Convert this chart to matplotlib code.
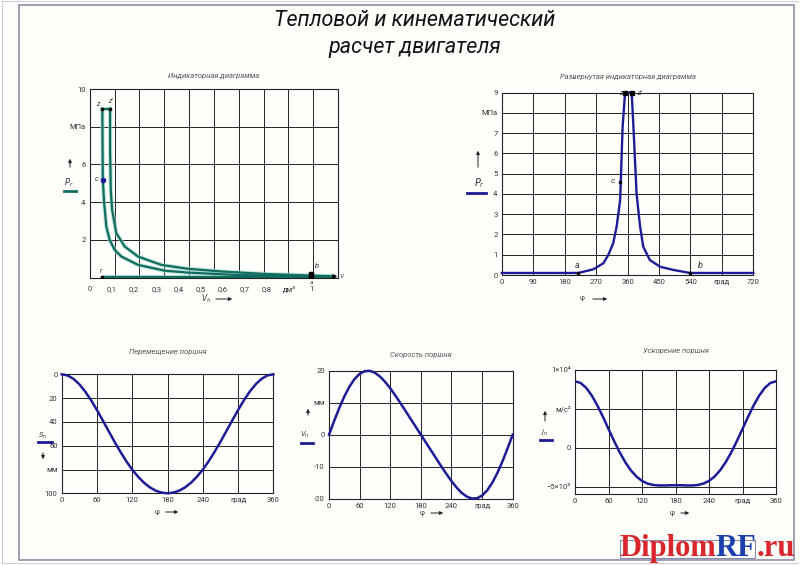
import numpy as np
import matplotlib
matplotlib.use("Agg")
import matplotlib.pyplot as plt
from matplotlib.patches import Rectangle, FancyArrowPatch
from matplotlib.lines import Line2D

plt.rcParams['font.family'] = ['Roboto', 'DejaVu Sans']

# ---- data ----
# indicator diagram (V in dm3, p in MPa)
comp_v = [0.059, 0.065, 0.075, 0.090, 0.113, 0.143, 0.218, 0.339, 0.444, 0.670, 0.895, 1.0, 1.10]
comp_p = [5.2, 4.0, 2.71, 2.0, 1.47, 1.12, 0.68, 0.37, 0.27, 0.14, 0.09, 0.08, 0.07]
exp_v = [0.092, 0.092, 0.095, 0.101, 0.120, 0.158, 0.218, 0.323, 0.444, 0.594, 0.79, 1.0, 1.10]
exp_p = [8.96, 6.8, 4.66, 3.6, 2.36, 1.65, 1.12, 0.68, 0.47, 0.33, 0.20, 0.11, 0.07]
cz_v = [0.059, 0.057]
cz_p = [5.2, 8.96]
zz_v = [0.057, 0.092]
zz_p = [8.96, 8.96]
exh_v = [0.057, 1.10]
exh_p = [0.05, 0.05]

# unfolded indicator diagram (deg, MPa)
phi_p = [0, 90, 180, 219, 262, 291, 305, 319, 329, 339, 346, 353, 372, 377, 386, 396,
         405, 424, 453, 491, 520, 539, 630, 720]
p_phi = [0.1, 0.1, 0.1, 0.1, 0.28, 0.58, 0.99, 1.56, 2.4, 3.7, 7.3, 9.0, 9.0, 7.3, 4.0, 2.4,
         1.4, 0.74, 0.41, 0.25, 0.16, 0.1, 0.1, 0.1]

# piston kinematics
phi_k = list(range(0, 361, 10))
s_half = [0, 0.96, 3.8, 8.4, 14.5, 21.8, 30.1, 38.9, 47.9, 56.8, 65.2, 73.1, 80.1,
          86.1, 91.1, 95.0, 97.8, 99.4, 100]
s_piston = s_half + s_half[-2::-1]
v_half = [0, 4.25, 8.30, 11.94, 15.01, 17.39, 19.02, 19.86, 19.95, 19.35, 18.16, 16.50,
          14.50, 12.25, 9.87, 7.41, 4.94, 2.47, 0]
v_piston = v_half + [-v for v in v_half[-2::-1]]
j_half = [8547, 8333, 7709, 6721, 5446, 3976, 2414, 863, -586, -1859, -2908, -3711,
          -4274, -4622, -4800, -4862, -4861, -4839, -4829]
j_piston = j_half + j_half[-2::-1]

W, H = 800, 565
fig = plt.figure(figsize=(8, 5.65), dpi=100)
fig.patch.set_facecolor('#fffffc')

def fx(x):
    return x / W

def fy(y):
    return 1 - y / H

def rect(l, t, r, b):
    return [fx(l), fy(b), fx(r) - fx(l), fy(t) - fy(b)]

# frame
fig.add_artist(Rectangle((fx(19), fy(560)), fx(794) - fx(19), fy(5) - fy(560),
                         transform=fig.transFigure, fill=False, ec='#8c8ca8', lw=1.2))
fig.add_artist(Line2D([fx(2), fx(2)], [fy(563), fy(1)], transform=fig.transFigure, color='#cfcfd8', lw=0.8))
fig.add_artist(Line2D([fx(2), fx(798)], [fy(563), fy(563)], transform=fig.transFigure, color='#cfcfd8', lw=0.8))
fig.add_artist(Line2D([fx(2), fx(798)], [fy(1), fy(1)], transform=fig.transFigure, color='#cfcfd8', lw=0.8))
fig.add_artist(Rectangle((fx(620), fy(558)), fx(755) - fx(620), fy(540) - fy(558),
                         transform=fig.transFigure, fill=False, ec='#8c8ca8', lw=0.8))

fig.text(fx(415), fy(21), 'Тепловой и кинематический', ha='center', va='center',
         fontsize=15.5, style='italic', color='#111')
fig.text(fx(415), fy(47), 'расчет двигателя', ha='center', va='center',
         fontsize=15.5, style='italic', color='#111')

TICK = dict(labelsize=5.5, colors='#333', length=0, pad=3)
navy = '#1c1c96'
teal = '#0f6c5e'


def setup(ax):
    for s in ax.spines.values():
        s.set_linewidth(0.8)
        s.set_color('#222')
    ax.tick_params(axis='both', **TICK)
    ax.set_facecolor('none')


def ftext(x, y, s, size=6, **kw):
    fig.text(fx(x), fy(y), s, fontsize=size, ha='center', va='center', color='#333', **kw)


def farrow(x0, y0, x1, y1):
    fig.add_artist(FancyArrowPatch((fx(x0), fy(y0)), (fx(x1), fy(y1)),
                   transform=fig.transFigure, arrowstyle='-|>', mutation_scale=5,
                   lw=0.7, color='#222'))


def fbar(x0, x1, y, color):
    fig.add_artist(Line2D([fx(x0), fx(x1)], [fy(y), fy(y)], transform=fig.transFigure,
                          color=color, lw=2))


# ---- 1: indicator diagram ----
ax1 = fig.add_axes(rect(89.7, 89, 338, 277.7))
setup(ax1)
ax1.tick_params(axis='x', pad=6)
ax1.set_xlim(0, 1.12)
ax1.set_ylim(0, 10)
ax1.set_xticks([0, 0.1, 0.2, 0.3, 0.4, 0.5, 0.6, 0.7, 0.8, 0.9, 1.0])
ax1.set_xticklabels(['0', '0,1', '0,2', '0,3', '0,4', '0,5', '0,6', '0,7', '0,8', 'дм³', '1'])
ax1.set_yticks([2, 4, 6, 8, 10])
ax1.set_yticklabels(['2', '4', '6', 'МПа', '10'])
for k in range(1, 10):
    ax1.axvline(k * 0.112, color='#222', lw=0.7)
for v in [2, 4, 6, 8]:
    ax1.axhline(v, color='#222', lw=0.7)
for xs, ys in [(comp_v, comp_p), (exp_v, exp_p), (cz_v, cz_p), (zz_v, zz_p), (exh_v, exh_p)]:
    ax1.plot(xs, ys, color='#9fd6cc', lw=3.2, solid_capstyle='round', zorder=2, alpha=0.6)
    ax1.plot(xs, ys, color=teal, lw=1.6, solid_capstyle='round', zorder=3)
ax1.plot([0.057, 0.092], [8.96, 8.96], 's', color='k', ms=2, zorder=4)
ax1.plot([0.059], [5.2], 'o', color=navy, ms=3, zorder=4)
ax1.plot([0.057], [0.05], 'o', color='k', ms=1.5, zorder=4)
ax1.plot([1.0, 1.0], [0.2, 0.08], 's', color='k', ms=2.2, zorder=4)
ax1.plot([1.10], [0.07], '>', color='k', ms=2.5, zorder=4, clip_on=False)
ax1.set_title('Индикаторная диаграмма', fontsize=5.5, style='italic', color='#555', pad=8)
ftext(98, 104, 'z', 5, style='italic')
ftext(110, 101, "z'", 5, style='italic')
ftext(97, 179, 'c', 5.5, style='italic')
ftext(101, 271, 'r', 5, style='italic')
ftext(317, 266, 'b', 5.5, style='italic')
ftext(311, 282, 'a', 4.5, style='italic')
ftext(341, 276, 'V', 4.5, style='italic')
farrow(70, 170, 70, 156)
ftext(69, 183, '$P_r$', 6)
fbar(64, 76, 191, teal)
ftext(206, 299, '$V_h$', 5.5)
farrow(213, 299, 235, 299)

# ---- 2: unfolded indicator diagram ----
ax2 = fig.add_axes(rect(501.7, 92.7, 753.3, 275))
setup(ax2)
ax2.set_xlim(0, 720)
ax2.set_ylim(0, 9)
ax2.set_xticks(range(0, 721, 90))
ax2.set_xticklabels(['0', '90', '180', '270', '360', '450', '540', 'град', '720'])
ax2.set_yticks(range(0, 10))
ax2.set_yticklabels(['0', '1', '2', '3', '4', '5', '6', '7', 'МПа', '9'])
ax2.grid(True, color='#222', lw=0.7)
ax2.plot(phi_p, p_phi, color=navy, lw=1.7, zorder=3, clip_on=False)
ax2.plot([353, 372], [9.0, 9.0], 's', color='k', ms=2.2, zorder=4, clip_on=False)
ax2.plot([339, 219, 539], [4.6, 0.1, 0.1], 's', color='k', ms=2, zorder=4)
ax2.set_title('Развернутая индикаторная диаграмма', fontsize=5.5, style='italic', color='#555', pad=10)
ftext(621, 93, 'z', 5, style='italic')
ftext(639, 93, "z'", 5, style='italic')
ftext(613, 181, 'c', 6, style='italic')
ftext(577, 265, 'a', 6.5, style='italic')
ftext(700, 265, 'b', 6.5, style='italic')
farrow(478, 170, 478, 148)
ftext(480, 183, '$P_r$', 7)
fbar(467, 486, 193, navy)
ftext(582, 298, 'φ', 5)
farrow(590, 299, 610, 299)

# ---- 3: piston displacement ----
ax3 = fig.add_axes(rect(61.7, 374.3, 273.3, 493.3))
setup(ax3)
ax3.set_xlim(0, 360)
ax3.set_ylim(100, 0)
ax3.set_xticks(range(0, 361, 60))
ax3.set_xticklabels(['0', '60', '120', '180', '240', 'град', '360'])
ax3.set_yticks([0, 20, 40, 60, 80, 100])
ax3.set_yticklabels(['0', '20', '40', '60', 'мм', '100'])
ax3.grid(True, color='#222', lw=0.7)
ax3.plot(phi_k, s_piston, color=navy, lw=1.8, zorder=3, clip_on=False)
ax3.set_title('Перемещение поршня', fontsize=5.5, style='italic', color='#555', pad=15)
ftext(43, 436, '$S_n$', 5)
fbar(38, 52, 442, navy)
farrow(43, 450, 43, 462)
ftext(157, 512, 'φ', 5)
farrow(163, 512, 181, 512)

# ---- 4: piston velocity ----
ax4 = fig.add_axes(rect(329, 370.7, 512.7, 498.7))
setup(ax4)
ax4.set_xlim(0, 360)
ax4.set_ylim(-20, 20)
ax4.set_xticks(range(0, 361, 60))
ax4.set_xticklabels(['0', '60', '120', '180', '240', 'град', '360'])
ax4.set_yticks([-20, -10, 0, 10, 20])
ax4.set_yticklabels(['-20', '-10', '0', 'мм', '20'])
ax4.grid(True, color='#222', lw=0.7)
ax4.plot(phi_k, v_piston, color=navy, lw=1.8, zorder=3, clip_on=False)
ax4.set_title('Скорость поршня', fontsize=5.5, style='italic', color='#555', pad=10)
ftext(305, 435, '$V_n$', 5)
fbar(301, 313, 443, navy)
farrow(308, 418, 308, 406)
ftext(422, 513, 'φ', 5)
farrow(428, 513, 446, 513)

# ---- 5: piston acceleration ----
ax5 = fig.add_axes(rect(575, 370, 776, 494.3))
setup(ax5)
ax5.set_xlim(0, 360)
ax5.set_ylim(-6000, 10000)
ax5.set_xticks(range(0, 361, 60))
ax5.set_xticklabels(['0', '60', '120', '180', '240', 'град', '360'])
ax5.set_yticks([-5000, 0, 5000, 10000])
ax5.set_yticklabels(['−5×10³', '0', 'м/с²', '1×10⁴'])
ax5.grid(True, color='#222', lw=0.7)
ax5.plot(phi_k, j_piston, color=navy, lw=1.8, zorder=3)
ax5.set_title('Ускорение поршня', fontsize=5.5, style='italic', color='#555', pad=12.5)
ftext(545, 433, '$j_n$', 5)
fbar(540, 552, 440, navy)
farrow(545, 424, 545, 408)
ftext(672, 513, 'φ', 5)
farrow(678, 513, 692, 513)

# watermark: pieces placed one after another
renderer = fig.canvas.get_renderer()
x_cur = fx(619)
for piece, col in [('Diplom', '#d8262c'), ('RF', '#1c3fb0'), ('.ru', '#d8262c')]:
    t = fig.text(x_cur, fy(556), piece, fontsize=22, color=col, weight='bold',
                 family='Liberation Serif', ha='left', va='baseline')
    bb = t.get_window_extent(renderer)
    x_cur += bb.width / W

fig.savefig('out.png', dpi=100, facecolor=fig.get_facecolor())
